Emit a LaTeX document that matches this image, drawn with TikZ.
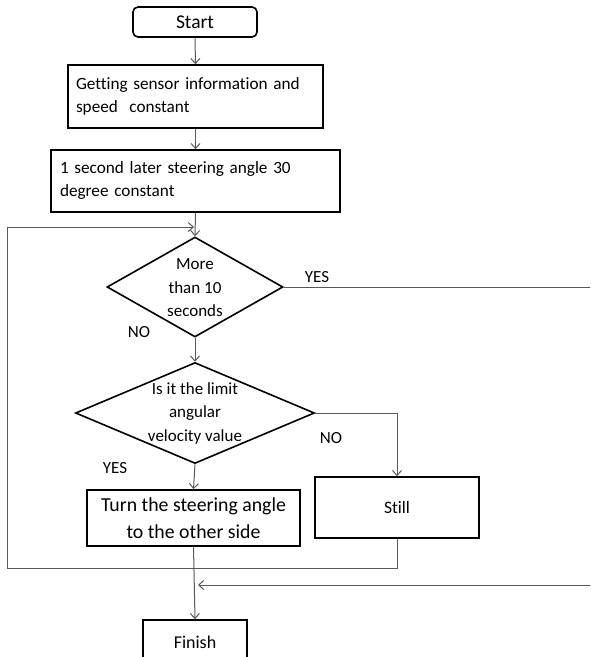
\documentclass[tikz,border=0pt]{standalone}
\usepackage{fontspec}
\setmainfont[Ligatures=NoCommon]{Carlito}
\usetikzlibrary{shapes.geometric,arrows.meta}
\begin{document}
\begin{tikzpicture}[x=1pt,y=-1pt,
  box/.style={draw=black,line width=1.6pt,fill=white,inner sep=0pt},
  dia/.style={diamond,draw=black,line width=1.6pt,fill=white,inner sep=0pt},
  conn/.style={draw=black!65,line width=1pt},
  arr/.style={conn,-{Straight Barb[length=5pt,width=9pt]}},
  txt/.style={font=\fontsize{17.2}{23}\selectfont,inner sep=0pt},
  lbl/.style={font=\fontsize{17}{20}\selectfont,inner sep=0pt}
]
\useasboundingbox (0,0) rectangle (590,657);
\clip (0,0) rectangle (590,657);
% nodes
\node[box,rounded corners=5pt,minimum width=124pt,minimum height=30pt,font=\fontsize{19.5}{23}\selectfont] (start) at (195,22) {Start};
\node[box,txt,minimum width=255pt,minimum height=63pt,text width=239pt,align=left,inner xsep=8pt] (b1) at (195.5,96.5) {Getting sensor information and\\speed\ \ constant};
\node[box,txt,minimum width=289pt,minimum height=62pt,text width=271pt,align=left,inner xsep=9pt] (b2) at (195.5,181) {1 second later steering angle 30\\degree constant};
\node[dia,minimum width=176pt,minimum height=100pt] (d1) at (195,287) {};
\node[txt,align=center,font=\fontsize{17}{23.5}\selectfont] (d1t) at (195,288) {More\\than 10\\seconds};
\node[dia,minimum width=239pt,minimum height=101pt] (d2) at (195,413) {};
\node[txt,align=center,font=\fontsize{17}{23.5}\selectfont] (d2t) at (195,413) {Is it the limit\\angular\\velocity value};
\node[box,minimum width=213pt,minimum height=56pt,align=center,font=\fontsize{19.8}{27}\selectfont] (b3) at (193.5,518) {Turn the steering angle\\to the other side};
\node[box,minimum width=164pt,minimum height=61pt,font=\fontsize{17.5}{21}\selectfont] (still) at (397,507.5) {Still};
\node[box,minimum width=104pt,minimum height=44pt,font=\fontsize{18}{21}\selectfont] (finish) at (195,642) {Finish};
% free ends
\coordinate (loopin) at (194,227);
\coordinate (loopbl) at (7,568);
\coordinate (yesend) at (600,287);
\coordinate (retstart) at (600,585);
\coordinate (retend) at (198,585);
\coordinate (d2r) at (397,413);
% connectors
\draw[arr] (start.south) -- (b1.north);
\draw[arr] (b1.south) -- (b2.north);
\draw[arr] (b2.south) -- (d1.north);
\draw[arr] (still.south) |- (loopbl) |- (loopin);
\draw[conn] (d1.east) -- (yesend);
\draw[arr] (d1.south) -- (d2.north);
\draw[arr] (d2.east) -- (d2r) -- (still.north);
\draw[arr] (d2.south) -- (b3.north);
\draw[arr] (b3.south) -- (finish.north);
\draw[arr] (retstart) -- (retend);
% labels
\node[lbl] (lyes1) at (317,277) {YES};
\node[lbl] (lno1) at (139,332) {NO};
\node[lbl] (lno2) at (331,438) {NO};
\node[lbl] (lyes2) at (115,468) {YES};
\end{tikzpicture}
\end{document}
